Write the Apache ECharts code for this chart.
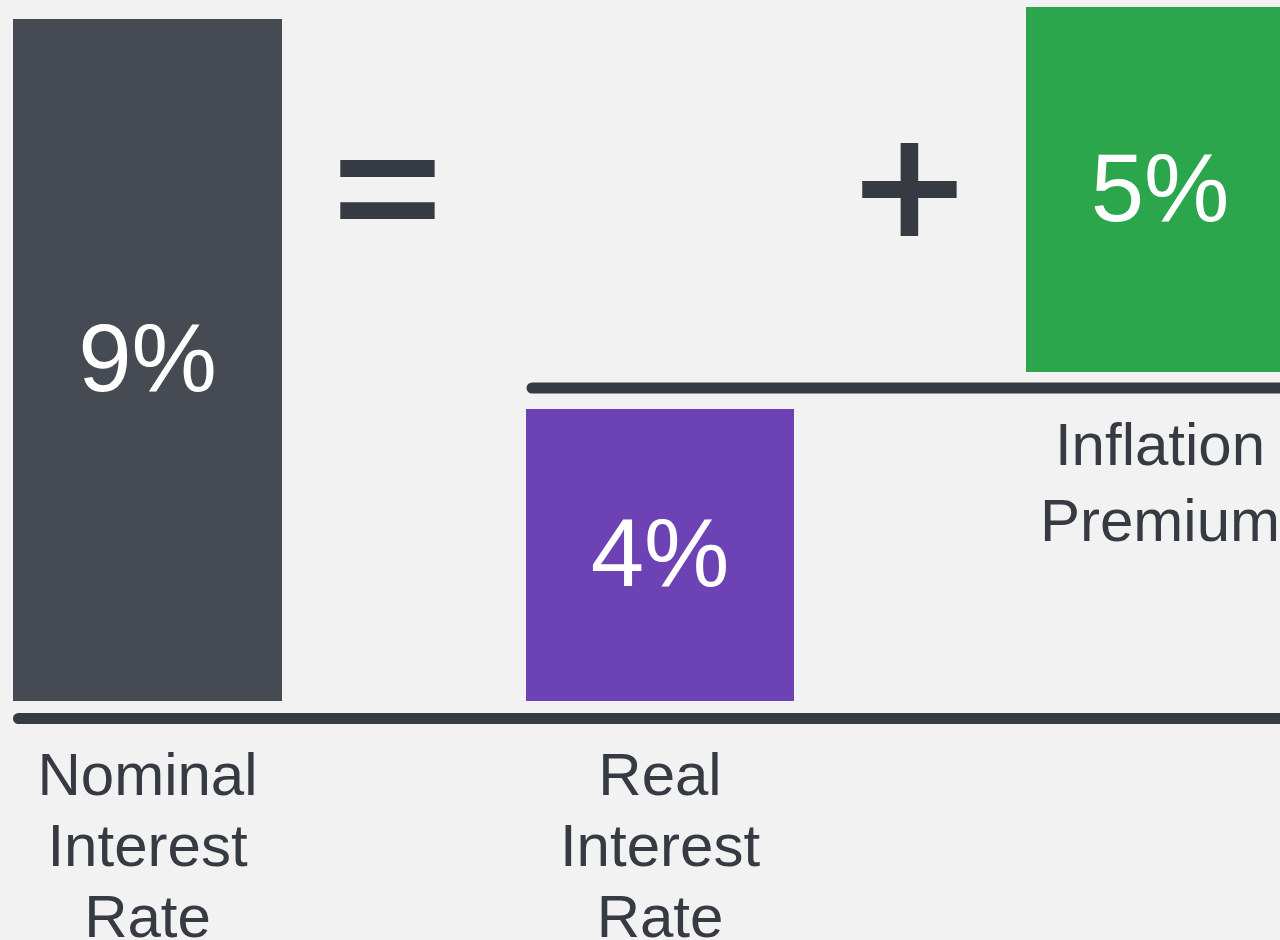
<!DOCTYPE html>
<html>
<head>
<meta charset="utf-8">
<script src="https://cdn.jsdelivr.net/npm/echarts@6/dist/echarts.min.js"></script>
<style>
html,body{margin:0;padding:0;background:#f2f2f2;}
#chart{width:1280px;height:940px;}
</style>
</head>
<body>
<div id="chart"></div>
<script>
// ---- data ----
const categories = ['Nominal\nInterest\nRate', 'Real\nInterest\nRate', 'Inflation\nPremium'];
const values = [9, 4, 5];
const operators = ['=', '+'];

// ---- layout / style ----
const FONT = '"Liberation Sans", Arial, sans-serif';
const TEXT_COLOR = '#363a43';
const barColors = ['#464a53', '#6c42b5', '#2ba64d'];
const gridBoxes = [
  { left: 13, top: 19, width: 269, height: 682 },
  { left: 526, top: 409, width: 268, height: 292 },
  { left: 1026, top: 7, width: 268, height: 365 }
];
const labelLayout = [
  { margin: 42, lineHeight: 71 },
  { margin: 42, lineHeight: 71 },
  { margin: 38, lineHeight: 76 }
];
// target ink boxes of the operator glyphs: [centerX, centerY, width, height]
const operatorBoxes = [[387.5, 188.5, 95, 59], [909.5, 189.5, 95, 93]];
// desired stroke-thickness / box-height ratio of '=' (17.5 / 59)
const EQ_RATIO = 0.297;

const chart = echarts.init(document.getElementById('chart'), null, { renderer: 'canvas' });

// pick the installed font whose '=' has bar proportions closest to the reference
function pickEqualFont() {
  const families = ['DejaVu Sans', 'Liberation Sans', 'Noto Sans', 'Roboto', 'Open Sans', 'Lato', 'Inter'];
  const weights = ['bold', 'normal'];
  const cv = document.createElement('canvas');
  cv.width = 400; cv.height = 400;
  const ctx = cv.getContext('2d');
  let best = { family: 'DejaVu Sans', weight: 'bold', err: Infinity };
  families.forEach(f => weights.forEach(wt => {
    ctx.clearRect(0, 0, 400, 400);
    ctx.font = wt + ' 200px "' + f + '"';
    ctx.textAlign = 'center';
    ctx.textBaseline = 'middle';
    ctx.fillStyle = '#000';
    ctx.fillText('=', 200, 200);
    const m = ctx.measureText('=');
    const cx = Math.round(200 + (m.actualBoundingBoxRight - m.actualBoundingBoxLeft) / 2);
    const data = ctx.getImageData(cx, 0, 1, 400).data;
    const runs = [];
    let start = -1;
    for (let y = 0; y < 400; y++) {
      const on = data[y * 4 + 3] > 127;
      if (on && start < 0) start = y;
      if (!on && start >= 0) { runs.push([start, y]); start = -1; }
    }
    if (runs.length !== 2) return;
    const t = ((runs[0][1] - runs[0][0]) + (runs[1][1] - runs[1][0])) / 2;
    const H = runs[1][1] - runs[0][0];
    const err = Math.abs(t / H - EQ_RATIO);
    if (err < best.err) best = { family: f, weight: wt, err };
  }));
  return best;
}

function fitGlyph(op, box, family, weight) {
  const ctx = document.createElement('canvas').getContext('2d');
  const base = 200;
  ctx.font = weight + ' ' + base + 'px "' + family + '"';
  ctx.textAlign = 'center';
  ctx.textBaseline = 'middle';
  const m = ctx.measureText(op);
  const w = m.actualBoundingBoxLeft + m.actualBoundingBoxRight;
  const h = m.actualBoundingBoxAscent + m.actualBoundingBoxDescent;
  const fs = base * box[2] / w;
  const k = fs / base;
  const sy = box[3] / (h * k);
  const ox = (m.actualBoundingBoxRight - m.actualBoundingBoxLeft) / 2 * k;
  const oy = (m.actualBoundingBoxDescent - m.actualBoundingBoxAscent) / 2 * k;
  return {
    type: 'text',
    x: box[0] - ox,
    y: box[1] - oy * sy,
    scaleX: 1,
    scaleY: sy,
    originX: 0,
    originY: 0,
    z: 10,
    style: {
      text: op,
      fontSize: fs,
      fontWeight: weight,
      fontFamily: family,
      fill: TEXT_COLOR,
      align: 'center',
      verticalAlign: 'middle'
    }
  };
}

const eqFont = pickEqualFont();
const opFonts = [[eqFont.family, eqFont.weight], ['DejaVu Sans', 'bold']];

const grid = gridBoxes.map(b => Object.assign({ outerBoundsMode: 'none', containLabel: false }, b));
const xAxis = categories.map((c, i) => ({
  gridIndex: i,
  type: 'category',
  data: [c],
  axisLine: { show: false },
  axisTick: { show: false },
  splitLine: { show: false },
  axisLabel: {
    show: true,
    interval: 0,
    fontSize: 60,
    fontFamily: FONT,
    color: TEXT_COLOR,
    margin: labelLayout[i].margin,
    lineHeight: labelLayout[i].lineHeight,
    align: 'center'
  }
}));
const yAxis = values.map((v, i) => ({
  gridIndex: i,
  type: 'value',
  min: 0,
  max: v,
  show: false,
  splitLine: { show: false }
}));
const series = values.map((v, i) => ({
  type: 'bar',
  xAxisIndex: i,
  yAxisIndex: i,
  data: [v],
  barWidth: '100%',
  itemStyle: { color: barColors[i] },
  label: {
    show: true,
    position: 'inside',
    offset: [0, 5],
    formatter: '{c}%',
    fontSize: 96,
    fontFamily: FONT,
    color: '#ffffff'
  },
  emphasis: { disabled: true },
  animation: false
}));

const graphic = [
  { type: 'line', shape: { x1: 18.5, y1: 718.5, x2: 1300, y2: 718.5 },
    style: { stroke: '#363a43', lineWidth: 11, lineCap: 'round' }, z: 10 },
  { type: 'line', shape: { x1: 532, y1: 388, x2: 1300, y2: 388 },
    style: { stroke: '#363a43', lineWidth: 11, lineCap: 'round' }, z: 10 }
].concat(operators.map((op, i) => fitGlyph(op, operatorBoxes[i], opFonts[i][0], opFonts[i][1])));

chart.setOption({
  backgroundColor: '#f2f2f2',
  animation: false,
  grid, xAxis, yAxis, series, graphic
});
</script>
</body>
</html>
